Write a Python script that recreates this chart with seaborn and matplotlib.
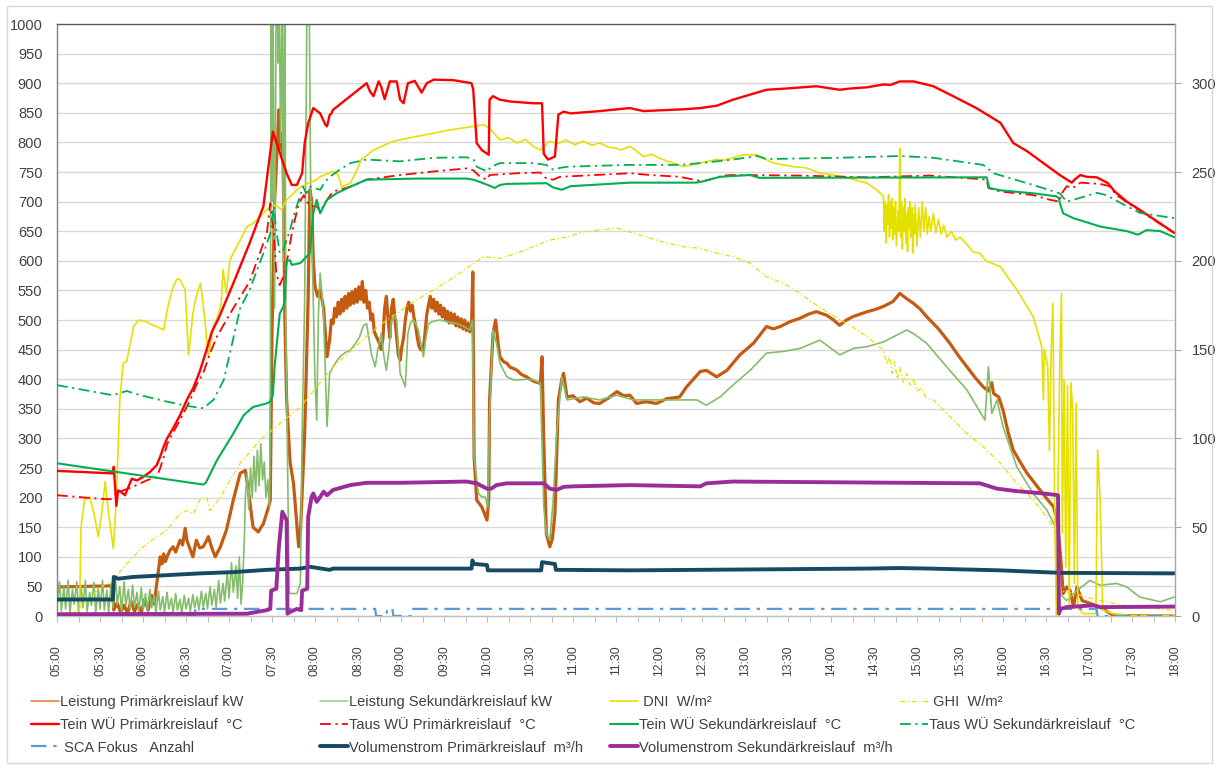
import pandas as pd
import matplotlib
matplotlib.use("Agg")
import matplotlib.pyplot as plt
from matplotlib.lines import Line2D
from matplotlib.patches import Rectangle
from matplotlib.ticker import FixedLocator, FuncFormatter
import seaborn as sns

sns.set_theme(style="white")
plt.rcParams["font.family"] = ["Liberation Sans", "DejaVu Sans"]

# ---------------------------------------------------------------------------
# Measurement series: (time of day in hours, value)
# ---------------------------------------------------------------------------

# thermal power, kW (left axis)
leistung_prim = [
    (5.00, 49), (5.65, 51), (5.66, 10), (5.70, 22), (5.74, 6), (5.78, 18), (5.82, 5), (5.86, 25),
    (5.90, 8), (5.94, 20), (5.98, 6), (6.02, 28), (6.06, 10), (6.10, 35), (6.13, 20), (6.16, 55),
    (6.20, 100), (6.22, 88), (6.24, 105), (6.26, 92), (6.28, 100), (6.31, 110), (6.35, 117),
    (6.38, 108), (6.43, 128), (6.46, 120), (6.49, 148), (6.51, 128), (6.55, 112), (6.58, 100),
    (6.62, 128), (6.66, 115), (6.70, 117), (6.73, 125), (6.76, 134), (6.80, 115), (6.84, 100),
    (6.90, 117), (6.97, 145), (7.05, 196), (7.13, 241), (7.19, 246), (7.22, 218), (7.28, 150),
    (7.34, 142), (7.40, 156), (7.46, 184), (7.48, 196), (7.50, 477), (7.53, 700), (7.56, 790),
    (7.58, 855), (7.59, 790), (7.61, 816), (7.63, 760), (7.65, 500), (7.67, 365), (7.71, 260),
    (7.75, 224), (7.81, 117), (7.83, 139), (7.88, 308), (7.92, 534), (7.94, 720), (7.96, 703),
    (7.98, 600), (8.00, 557), (8.03, 540), (8.06, 551), (8.10, 520), (8.14, 438),
    (8.17, 466), (8.19, 500), (8.21, 494), (8.23, 520), (8.25, 505), (8.27, 530), (8.29, 510),
    (8.31, 535), (8.33, 515), (8.35, 540), (8.37, 520), (8.39, 545), (8.41, 525), (8.43, 548),
    (8.45, 528), (8.47, 552), (8.49, 530), (8.51, 556), (8.53, 535), (8.55, 565), (8.57, 530),
    (8.59, 550), (8.61, 520), (8.63, 530), (8.65, 500), (8.67, 510), (8.69, 480), (8.72, 470),
    (8.75, 460), (8.77, 450), (8.79, 470), (8.81, 520), (8.83, 540), (8.85, 500), (8.87, 470),
    (8.89, 520), (8.91, 535), (8.93, 500), (8.95, 470), (8.97, 440), (8.99, 432), (9.01, 455),
    (9.03, 470), (9.05, 500), (9.07, 520), (9.09, 530), (9.11, 515), (9.13, 525), (9.15, 505),
    (9.17, 490), (9.19, 470), (9.21, 455), (9.23, 450), (9.26, 449), (9.28, 480), (9.30, 510),
    (9.32, 525), (9.34, 540), (9.36, 520), (9.38, 535), (9.40, 515), (9.42, 530), (9.44, 510),
    (9.46, 525), (9.48, 505), (9.50, 520), (9.52, 500), (9.54, 515), (9.56, 495), (9.58, 512),
    (9.60, 495), (9.62, 510), (9.64, 490), (9.66, 505), (9.68, 488), (9.70, 502), (9.72, 485),
    (9.74, 500), (9.76, 482), (9.78, 495), (9.80, 480), (9.82, 490), (9.835, 581), (9.85, 269),
    (9.88, 196), (9.94, 184), (10.00, 162), (10.02, 196), (10.03, 365), (10.07, 477),
    (10.10, 500), (10.13, 460), (10.15, 438), (10.19, 430), (10.23, 427), (10.27, 420),
    (10.31, 418), (10.35, 415), (10.40, 408), (10.46, 404), (10.50, 400), (10.55, 396),
    (10.62, 393), (10.64, 438), (10.66, 297), (10.69, 139), (10.73, 117), (10.76, 130),
    (10.79, 173), (10.83, 365), (10.87, 400), (10.89, 410), (10.93, 370), (11.00, 372),
    (11.08, 362), (11.16, 368), (11.24, 360), (11.31, 359), (11.41, 368), (11.51, 379),
    (11.59, 372), (11.66, 373), (11.74, 359), (11.85, 362), (11.97, 359), (12.09, 367),
    (12.24, 370), (12.32, 387), (12.40, 400), (12.48, 413), (12.55, 415), (12.67, 404),
    (12.79, 415), (12.94, 441), (13.10, 461), (13.25, 489), (13.33, 485), (13.41, 489),
    (13.52, 497), (13.64, 503), (13.74, 510), (13.83, 514), (13.95, 508), (14.03, 500),
    (14.10, 491), (14.18, 500), (14.26, 506), (14.34, 510), (14.42, 514), (14.52, 518),
    (14.61, 523), (14.72, 531), (14.80, 545), (14.88, 536), (14.96, 528), (15.04, 518),
    (15.11, 506), (15.25, 485), (15.38, 461), (15.48, 440), (15.58, 421), (15.68, 402),
    (15.77, 387), (15.83, 380), (15.87, 394), (15.89, 376), (15.95, 370), (16.00, 348),
    (16.06, 310), (16.12, 280), (16.20, 260), (16.28, 241), (16.35, 228), (16.43, 213),
    (16.51, 198), (16.59, 184), (16.64, 150), (16.67, 100), (16.70, 38), (16.74, 49),
    (16.78, 43), (16.82, 15), (16.86, 49), (16.92, 26), (17.00, 22), (17.13, 15), (17.28, 1),
    (17.99, 0),
]

leistung_sek = [
    (5.00, 15), (5.03, 58), (5.05, 8), (5.08, 50), (5.10, 12), (5.13, 60), (5.15, 5), (5.18, 45),
    (5.20, 20), (5.23, 58), (5.25, 6), (5.28, 52), (5.30, 14), (5.33, 60), (5.35, 8), (5.38, 40),
    (5.40, 18), (5.43, 57), (5.45, 5), (5.48, 48), (5.50, 12), (5.53, 60), (5.55, 10), (5.58, 44),
    (5.60, 6), (5.63, 55), (5.65, 15), (5.68, 62), (5.70, 20), (5.73, 50), (5.75, 8), (5.78, 58),
    (5.80, 18), (5.83, 45), (5.85, 10), (5.88, 52), (5.90, 15), (5.93, 40), (5.95, 6), (5.98, 48),
    (6.00, 12), (6.03, 38), (6.05, 8), (6.08, 45), (6.10, 14), (6.13, 35), (6.15, 5), (6.18, 42),
    (6.20, 10), (6.23, 33), (6.25, 7), (6.28, 40), (6.30, 12), (6.33, 30), (6.35, 6), (6.38, 38),
    (6.40, 10), (6.43, 28), (6.45, 5), (6.48, 35), (6.50, 12), (6.53, 30), (6.55, 8), (6.58, 36),
    (6.60, 14), (6.63, 32), (6.65, 10), (6.68, 42), (6.70, 15), (6.73, 38), (6.75, 12), (6.78, 50),
    (6.80, 18), (6.83, 45), (6.85, 15), (6.88, 60), (6.90, 22), (6.93, 55), (6.95, 25), (6.98, 75),
    (7.00, 30), (7.03, 90), (7.05, 40), (7.08, 85), (7.10, 30), (7.12, 100), (7.14, 20),
    (7.16, 60), (7.18, 139), (7.19, 200), (7.21, 241), (7.23, 180), (7.25, 250), (7.27, 200),
    (7.29, 270), (7.31, 210), (7.33, 280), (7.35, 220), (7.37, 291), (7.39, 230), (7.41, 260),
    (7.43, 200), (7.45, 230), (7.47, 184), (7.48, 308), (7.49, 1100), (7.50, 700), (7.51, 1100),
    (7.53, 520), (7.55, 1100), (7.56, 1100), (7.57, 934), (7.58, 1100), (7.60, 800),
    (7.62, 1100), (7.63, 600), (7.65, 1100), (7.66, 500), (7.68, 275), (7.70, 38), (7.79, 38),
    (7.83, 55), (7.85, 308), (7.88, 534), (7.91, 1100), (7.93, 1100), (7.95, 703), (7.98, 534),
    (8.00, 400), (8.02, 331), (8.04, 511), (8.06, 579), (8.08, 545), (8.10, 506), (8.14, 320),
    (8.17, 410), (8.21, 421), (8.25, 430), (8.29, 438), (8.35, 445), (8.41, 449), (8.47, 460),
    (8.52, 472), (8.56, 490), (8.60, 494), (8.63, 466), (8.66, 440), (8.70, 421), (8.73, 450),
    (8.77, 477), (8.80, 440), (8.83, 415), (8.86, 450), (8.89, 500), (8.93, 505), (8.95, 500),
    (8.99, 410), (9.03, 395), (9.05, 387), (9.08, 477), (9.11, 495), (9.14, 500), (9.17, 495),
    (9.20, 483), (9.24, 455), (9.26, 438), (9.29, 470), (9.32, 494), (9.38, 498), (9.45, 500),
    (9.55, 497), (9.65, 494), (9.72, 490), (9.80, 483), (9.83, 500), (9.85, 269), (9.90, 207),
    (9.94, 201), (9.98, 201), (10.01, 184), (10.03, 337), (10.07, 483), (10.11, 461),
    (10.15, 427), (10.23, 404), (10.31, 399), (10.38, 399), (10.46, 400), (10.54, 399),
    (10.62, 393), (10.66, 184), (10.69, 139), (10.73, 128), (10.77, 196), (10.81, 308),
    (10.87, 404), (10.93, 365), (11.12, 370), (11.31, 365), (11.51, 373), (11.70, 365),
    (12.09, 365), (12.28, 365), (12.44, 365), (12.55, 356), (12.71, 370), (12.86, 390),
    (13.06, 415), (13.25, 444), (13.45, 447), (13.64, 452), (13.87, 466), (14.03, 449),
    (14.10, 441), (14.26, 452), (14.42, 455), (14.61, 463), (14.80, 477), (14.88, 483),
    (14.96, 477), (15.11, 461), (15.38, 415), (15.58, 382), (15.79, 331), (15.83, 421),
    (15.87, 342), (15.93, 365), (16.00, 320), (16.16, 252), (16.35, 207), (16.51, 179),
    (16.63, 145), (16.66, 38), (16.74, 26), (16.86, 43), (17.01, 60), (17.13, 52), (17.32, 55),
    (17.44, 49), (17.59, 32), (17.83, 24), (17.99, 32),
]

# irradiance, W/m² (left axis)
dni = [
    (5.00, 0), (5.26, 0), (5.28, 150), (5.32, 196), (5.38, 201), (5.43, 173), (5.48, 134),
    (5.52, 173), (5.56, 227), (5.60, 173), (5.655, 114), (5.69, 196), (5.73, 365), (5.77, 427),
    (5.81, 430), (5.89, 489), (5.95, 500), (6.04, 497), (6.10, 492), (6.16, 489), (6.24, 483),
    (6.29, 523), (6.35, 556), (6.40, 570), (6.43, 568), (6.49, 551), (6.53, 441), (6.58, 511),
    (6.62, 540), (6.67, 562), (6.72, 500), (6.76, 438), (6.82, 489), (6.88, 511), (6.91, 528),
    (6.93, 585), (6.97, 545), (7.01, 601), (7.05, 613), (7.13, 635), (7.21, 658), (7.28, 663),
    (7.40, 680), (7.48, 692), (7.55, 694), (7.61, 686), (7.67, 703), (7.83, 725), (8.02, 737),
    (8.06, 742), (8.21, 751), (8.27, 745), (8.31, 725), (8.41, 731), (8.47, 748), (8.54, 771),
    (8.68, 787), (8.91, 802), (9.18, 810), (9.57, 821), (9.84, 827), (9.96, 830), (10.03, 824),
    (10.15, 804), (10.25, 808), (10.35, 799), (10.45, 805), (10.54, 793), (10.62, 787),
    (10.73, 802), (10.82, 798), (10.92, 804), (11.02, 796), (11.12, 802), (11.22, 795),
    (11.31, 799), (11.41, 792), (11.51, 790), (11.55, 787), (11.66, 793), (11.70, 790),
    (11.82, 776), (11.92, 780), (12.01, 773), (12.10, 768), (12.17, 765), (12.28, 759),
    (12.38, 762), (12.48, 765), (12.57, 768), (12.67, 771), (12.76, 770), (12.86, 774),
    (12.98, 779), (13.14, 779), (13.33, 765), (13.45, 762), (13.56, 759), (13.71, 757),
    (13.87, 748), (14.03, 745), (14.22, 739), (14.42, 731), (14.53, 720), (14.61, 709),
    (14.62, 650), (14.63, 700), (14.64, 630), (14.65, 695), (14.66, 660), (14.67, 712),
    (14.68, 640), (14.69, 700), (14.70, 655), (14.71, 705), (14.72, 635), (14.73, 690),
    (14.74, 645), (14.75, 700), (14.76, 625), (14.78, 685), (14.79, 650), (14.80, 790),
    (14.81, 640), (14.82, 700), (14.83, 620), (14.84, 690), (14.85, 650), (14.86, 705),
    (14.87, 630), (14.88, 680), (14.89, 616), (14.90, 690), (14.91, 655), (14.92, 700),
    (14.93, 640), (14.94, 690), (14.95, 613), (14.96, 680), (14.97, 645), (14.98, 695),
    (15.00, 625), (15.02, 690), (15.04, 640), (15.06, 700), (15.08, 650), (15.10, 690),
    (15.12, 645), (15.14, 675), (15.16, 650), (15.19, 680), (15.22, 647), (15.25, 670),
    (15.28, 645), (15.31, 660), (15.35, 640), (15.40, 650), (15.45, 635), (15.50, 640),
    (15.58, 628), (15.65, 615), (15.73, 613), (15.80, 600), (15.97, 590), (16.16, 551),
    (16.35, 506), (16.43, 466), (16.45, 455), (16.47, 365), (16.48, 450), (16.52, 421),
    (16.54, 280), (16.56, 444), (16.58, 528), (16.60, 196), (16.62, 0), (16.66, 421),
    (16.68, 545), (16.69, 140), (16.71, 400), (16.73, 83), (16.75, 389), (16.77, 15),
    (16.79, 394), (16.81, 348), (16.83, 55), (16.85, 359), (16.87, 15), (16.93, 4), (17.08, 4),
    (17.10, 280), (17.13, 196), (17.16, 10), (17.28, 4), (17.47, 1), (17.99, 1),
]

ghi = [
    (5.00, 0), (5.15, 0), (5.35, 26), (5.50, 49), (5.65, 60), (5.81, 88), (6.00, 117),
    (6.16, 134), (6.28, 145), (6.43, 173), (6.51, 178), (6.59, 173), (6.66, 196), (6.74, 201),
    (6.78, 178), (6.90, 201), (7.01, 229), (7.13, 258), (7.36, 297), (7.59, 325), (7.83, 353),
    (8.02, 387), (8.21, 421), (8.60, 472), (8.79, 495), (9.14, 530), (9.57, 568), (9.96, 607),
    (10.15, 604), (10.35, 613), (10.54, 624), (10.73, 635), (10.92, 640), (11.12, 649),
    (11.31, 652), (11.51, 655), (11.70, 647), (11.90, 638), (12.09, 630), (12.28, 624),
    (12.48, 621), (12.67, 613), (12.86, 607), (13.06, 596), (13.25, 573), (13.45, 562),
    (13.64, 545), (13.83, 525), (14.03, 507), (14.22, 491), (14.42, 472), (14.61, 449),
    (14.65, 425), (14.68, 440), (14.71, 410), (14.74, 430), (14.77, 400), (14.80, 420),
    (14.84, 395), (14.88, 410), (14.92, 390), (14.96, 400), (15.00, 380), (15.05, 385),
    (15.10, 370), (15.19, 365), (15.38, 337), (15.58, 308), (15.77, 286), (15.97, 258),
    (16.16, 224), (16.35, 196), (16.51, 167), (16.59, 150), (16.63, 83), (16.66, 43),
    (16.82, 38), (17.13, 26), (17.51, 15), (17.99, 10),
]

# heat exchanger temperatures, °C (right axis)
tein_prim = [
    (5.00, 81.7), (5.65, 80.3), (5.66, 84.0), (5.69, 62.0), (5.71, 70.7), (5.75, 69.7),
    (5.79, 68.0), (5.83, 72.7), (5.87, 77.3), (5.93, 76.3), (6.00, 78.3), (6.08, 81.0),
    (6.16, 85.0), (6.20, 89.7), (6.24, 95.3), (6.28, 100.0), (6.35, 105.7), (6.43, 113.0),
    (6.51, 121.7), (6.59, 129.0), (6.66, 137.7), (6.74, 150.0), (6.80, 160.0), (6.88, 167.7),
    (7.05, 187.3), (7.24, 210.0), (7.40, 230.7), (7.51, 272.7), (7.67, 249.3), (7.73, 242.7),
    (7.79, 242.7), (7.85, 249.3), (7.88, 266.3), (7.92, 277.3), (7.98, 286.0), (8.06, 283.0),
    (8.12, 276.7), (8.14, 275.7), (8.17, 282.0), (8.19, 283.0), (8.21, 285.0), (8.41, 292.7),
    (8.60, 300.0), (8.64, 295.3), (8.68, 292.7), (8.74, 301.0), (8.77, 298.0), (8.81, 291.0),
    (8.87, 301.0), (8.95, 301.0), (8.99, 290.7), (9.03, 288.7), (9.08, 300.0), (9.16, 301.3),
    (9.20, 298.0), (9.24, 294.7), (9.30, 300.0), (9.38, 302.0), (9.61, 301.7), (9.82, 300.0),
    (9.84, 296.3), (9.88, 266.3), (9.94, 262.3), (10.02, 259.7), (10.03, 290.7), (10.07, 292.7),
    (10.15, 290.7), (10.27, 289.7), (10.54, 288.7), (10.64, 288.7), (10.66, 260.3),
    (10.71, 257.0), (10.79, 258.7), (10.83, 282.3), (10.89, 284.0), (10.97, 283.0),
    (11.31, 284.3), (11.66, 286.0), (11.82, 284.3), (12.28, 285.3), (12.48, 286.0),
    (12.67, 287.3), (12.86, 290.7), (13.25, 296.3), (13.48, 297.0), (13.83, 298.3),
    (14.10, 296.3), (14.22, 297.0), (14.42, 297.7), (14.61, 299.3), (14.69, 299.0),
    (14.80, 301.0), (14.96, 301.0), (15.19, 298.3), (15.42, 292.7), (15.69, 286.0),
    (15.97, 277.7), (16.12, 266.3), (16.28, 261.7), (16.47, 255.0), (16.66, 248.3),
    (16.80, 244.0), (16.84, 246.0), (16.90, 248.3), (16.97, 247.3), (17.09, 247.0),
    (17.22, 243.7), (17.30, 239.0), (17.44, 233.3), (17.59, 228.7), (17.83, 221.0),
    (17.99, 215.7),
]

taus_prim = [
    (5.00, 68.0), (5.50, 66.0), (5.62, 65.7), (5.65, 67.0), (5.73, 70.0), (5.88, 72.7),
    (6.04, 76.3), (6.16, 78.3), (6.20, 83.3), (6.24, 89.3), (6.28, 96.7), (6.35, 103.3),
    (6.43, 110.3), (6.55, 121.7), (6.62, 130.0), (6.70, 136.7), (6.78, 148.0), (6.86, 157.3),
    (6.97, 166.7), (7.05, 173.3), (7.24, 188.3), (7.44, 215.3), (7.48, 232.3), (7.52, 215.3),
    (7.55, 193.0), (7.59, 186.3), (7.65, 193.0), (7.67, 198.7), (7.73, 215.3), (7.81, 232.3),
    (7.87, 237.0), (7.90, 233.3), (7.96, 230.7), (8.02, 230.7), (8.06, 227.7), (8.14, 234.3),
    (8.21, 239.0), (8.41, 241.7), (8.60, 245.7), (8.99, 248.3), (9.38, 250.3), (9.76, 252.0),
    (9.84, 251.0), (9.92, 247.3), (10.00, 245.7), (10.03, 248.3), (10.35, 249.3),
    (10.62, 249.7), (10.69, 246.3), (10.77, 245.7), (10.85, 247.3), (11.66, 249.3),
    (11.90, 248.3), (12.24, 247.3), (12.40, 245.7), (12.51, 244.7), (12.63, 246.3),
    (12.75, 248.0), (12.86, 248.3), (13.64, 248.0), (14.42, 247.0), (15.15, 248.0),
    (15.73, 246.0), (15.81, 245.7), (15.83, 241.0), (15.97, 239.0), (16.16, 238.0),
    (16.35, 237.0), (16.55, 234.3), (16.66, 233.3), (16.67, 237.0), (16.74, 242.0),
    (16.81, 241.0), (16.90, 244.0), (17.13, 243.3), (17.24, 242.0), (17.32, 237.0),
    (17.51, 230.7), (17.99, 215.7),
]

tein_sek = [
    (5.00, 86.0), (6.70, 74.0), (6.73, 75.0), (6.86, 87.7), (7.05, 102.7), (7.17, 113.0),
    (7.28, 117.7), (7.44, 119.7), (7.48, 120.7), (7.51, 124.3), (7.53, 140.3), (7.59, 170.3),
    (7.63, 174.0), (7.65, 178.0), (7.67, 200.0), (7.71, 200.3), (7.73, 197.7), (7.83, 198.7),
    (7.90, 202.3), (7.94, 204.3), (7.98, 226.7), (8.02, 234.3), (8.06, 226.7), (8.10, 230.7),
    (8.14, 234.3), (8.25, 238.0), (8.41, 241.7), (8.60, 245.7), (9.18, 246.3), (9.76, 246.3),
    (9.84, 245.7), (9.94, 244.0), (10.03, 242.3), (10.09, 241.0), (10.15, 242.7),
    (10.23, 243.3), (10.69, 243.7), (10.77, 241.3), (10.87, 240.0), (10.97, 242.0),
    (11.66, 244.0), (12.43, 244.0), (12.51, 244.7), (12.71, 247.3), (13.06, 248.3),
    (13.17, 246.7), (15.81, 247.0), (15.84, 241.0), (15.97, 239.7), (16.35, 238.0),
    (16.62, 236.3), (16.65, 235.3), (16.66, 232.7), (16.70, 226.7), (16.82, 224.0),
    (17.13, 219.3), (17.44, 216.7), (17.57, 214.7), (17.67, 217.3), (17.83, 216.7),
    (17.99, 213.3),
]

taus_sek = [
    (5.00, 130.0), (5.65, 124.3), (5.81, 126.7), (5.97, 124.3), (6.28, 120.7), (6.51, 118.3),
    (6.70, 117.0), (6.82, 121.7), (6.94, 133.0), (7.01, 148.0), (7.09, 164.7), (7.13, 173.3),
    (7.24, 183.7), (7.40, 204.3), (7.48, 215.3), (7.52, 230.7), (7.55, 217.3), (7.59, 204.3),
    (7.63, 206.0), (7.71, 217.3), (7.75, 225.0), (7.86, 241.7), (7.90, 238.0), (7.94, 241.7),
    (8.06, 240.0), (8.12, 244.7), (8.17, 247.3), (8.29, 251.3), (8.41, 255.0), (8.60, 257.0),
    (8.99, 256.0), (9.38, 258.0), (9.76, 258.3), (9.84, 257.3), (9.88, 253.0), (10.00, 250.3),
    (10.05, 253.0), (10.15, 255.0), (10.54, 255.0), (10.69, 254.0), (10.77, 251.3),
    (10.85, 252.3), (10.94, 253.0), (11.66, 254.0), (12.24, 254.0), (12.48, 255.0),
    (12.86, 257.0), (13.14, 259.0), (13.25, 257.3), (14.10, 258.0), (14.80, 259.0),
    (15.19, 258.0), (15.77, 254.0), (15.89, 249.3), (16.35, 242.7), (16.66, 238.0),
    (16.74, 233.3), (16.82, 234.3), (17.09, 238.3), (17.20, 237.0), (17.44, 230.7),
    (17.59, 227.0), (17.99, 224.0),
]

# number of focused collectors (right axis)
sca_fokus = [
    (5.00, 0), (6.60, 0), (6.61, 4), (8.70, 4), (8.71, 0), (8.83, 0), (8.84, 4), (8.90, 4),
    (8.91, 0), (9.12, 0), (9.13, 4), (17.09, 4), (17.10, 0), (17.99, 0),
]

# volume flows, m³/h (right axis)
vol_prim = [
    (5.00, 9.3), (5.65, 9.3), (5.66, 22.0), (5.71, 21.0), (5.89, 22.0), (6.28, 23.0),
    (6.66, 24.0), (7.05, 24.7), (7.44, 26.0), (7.83, 26.7), (7.94, 27.7), (8.17, 26.0),
    (8.21, 26.7), (9.82, 26.7), (9.83, 31.3), (9.85, 29.3), (10.00, 28.7), (10.01, 25.7),
    (10.63, 25.7), (10.64, 30.3), (10.79, 29.3), (10.80, 26.0), (11.66, 25.7), (12.48, 26.0),
    (14.42, 26.7), (14.80, 27.0), (15.15, 26.7), (15.97, 25.7), (16.66, 24.3), (17.99, 24.0),
]

vol_sek = [
    (5.00, 1.0), (7.21, 1.3), (7.44, 3.3), (7.48, 4.0), (7.49, 14.3), (7.55, 15.3),
    (7.58, 39.0), (7.62, 58.7), (7.67, 54.0), (7.68, 1.3), (7.71, 2.3), (7.79, 4.0),
    (7.84, 3.3), (7.85, 14.3), (7.91, 15.3), (7.92, 55.7), (7.96, 67.0), (7.98, 69.0),
    (8.02, 64.3), (8.06, 67.0), (8.10, 70.0), (8.14, 68.0), (8.21, 71.0), (8.41, 73.7),
    (8.60, 75.0), (8.99, 75.0), (9.76, 75.7), (9.88, 74.7), (10.00, 71.7), (10.05, 71.7),
    (10.11, 73.7), (10.23, 74.7), (10.66, 74.7), (10.73, 71.7), (10.81, 71.0), (10.89, 72.7),
    (11.00, 73.0), (11.66, 73.7), (12.48, 73.0), (12.55, 74.7), (12.86, 75.7), (15.73, 74.7),
    (15.93, 71.7), (16.16, 70.3), (16.47, 69.0), (16.64, 68.0), (16.65, 1.3), (16.67, 4.0),
    (16.74, 5.0), (17.05, 6.0), (17.13, 5.0), (17.99, 5.3),
]

labels = [
    "Leistung Primärkreislauf kW", "Leistung Sekundärkreislauf kW", " DNI  W/m²", " GHI  W/m²",
    "Tein WÜ Primärkreislauf  °C", "Taus WÜ Primärkreislauf  °C",
    "Tein WÜ Sekundärkreislauf  °C", "Taus WÜ Sekundärkreislauf  °C",
    " SCA Fokus   Anzahl", "Volumenstrom Primärkreislauf  m³/h",
    "Volumenstrom Sekundärkreislauf  m³/h",
]

# ---------------------------------------------------------------------------
W, H = 1217, 769
TXT = "#404040"
fig = plt.figure(figsize=(W / 100, H / 100), dpi=100)
ax = fig.add_axes([57 / W, 1 - 616 / H, (1175 - 57) / W, (616 - 24) / H])
ax2 = ax.twinx()


def draw(axis, pairs, color, lw, style="-", z=2):
    df = pd.DataFrame(pairs, columns=["zeit", "wert"])
    sns.lineplot(data=df, x="zeit", y="wert", ax=axis, color=color, linewidth=lw,
                 linestyle=style, estimator=None, sort=False, zorder=z)
    line = axis.lines[-1]
    line.set_solid_joinstyle("round")
    return line


dash_dot = (0, (6, 2.5, 1.2, 2.5))
draw(ax, leistung_prim, "#C55A11", 2.3)
draw(ax, leistung_sek, "#84BD6A", 1.2)
h_dni = draw(ax, dni, "#E6E000", 1.2)
h_ghi = draw(ax, ghi, "#E6E000", 0.9, (0, (4, 2, 1, 2)))

h_tp = draw(ax2, tein_prim, "#FF0000", 1.7)
h_tap = draw(ax2, taus_prim, "#FF0000", 1.3, dash_dot)
h_ts = draw(ax2, tein_sek, "#00B050", 1.5)
h_tas = draw(ax2, taus_sek, "#00B050", 1.3, dash_dot)
h_sca = draw(ax2, sca_fokus, "#5B9BD5", 1.6, (0, (7, 3, 1.5, 3)))
h_vp = draw(ax2, vol_prim, "#174A61", 2.8)
h_vs = draw(ax2, vol_sek, "#9B2D9B", 2.8)

# thin legend keys for the two power series
h_lp = Line2D([], [], color="#E8803F", linewidth=1.2)
h_ls = Line2D([], [], color="#A3D08C", linewidth=1.2)

# axes, ticks, grid
ax.set_xlim(5, 18)
ax.set_ylim(0, 1000)
ax2.set_ylim(0, 1000 / 3)
for a in (ax, ax2):
    a.set_xlabel("")
    a.set_ylabel("")

ax.set_yticks(range(0, 1001, 50))
ax.yaxis.grid(True, color="#D9D9D9", linewidth=1.0)
ax.xaxis.grid(False)
ax.set_axisbelow(True)
ax2.set_yticks(range(0, 301, 50))
ax2.grid(False)

half_hours = [5 + 0.5 * i for i in range(27)]
quarters = [5.25 + 0.5 * i for i in range(26)]
ax.xaxis.set_major_locator(FixedLocator(half_hours))
ax.xaxis.set_minor_locator(FixedLocator(quarters))
ax.xaxis.set_major_formatter(FuncFormatter(
    lambda v, p: f"{int(v):02d}:{int(round((v - int(v)) * 60)):02d}"))

ax.tick_params(axis="y", which="both", left=False, length=0, labelsize=10.5,
               labelcolor=TXT, pad=10.5)
ax.tick_params(axis="x", which="both", bottom=True, direction="out", length=4, width=0.8,
               color="#BFBFBF", labelsize=8.8, labelcolor=TXT, labelrotation=90, pad=17)
ax2.tick_params(axis="y", right=True, direction="out", length=4, width=0.8, color="#A6A6A6",
                labelsize=10.5, labelcolor=TXT, pad=8)

ax.spines["top"].set_color("#595959")
ax.spines["left"].set_color("#808080")
ax.spines["bottom"].set_color("#BFBFBF")
ax.spines["right"].set_visible(False)
for s in ("top", "left", "bottom"):
    ax2.spines[s].set_visible(False)
ax2.spines["right"].set_color("#A6A6A6")
for s in ax.spines.values():
    s.set_linewidth(1.0)
ax2.spines["right"].set_linewidth(1.0)

# legend, laid out as four columns of three rows
columns = [
    ([h_lp, h_tp, h_sca], [labels[0], labels[4], labels[8]], 31),
    ([h_ls, h_tap, h_vp], [labels[1], labels[5], labels[9]], 320),
    ([h_dni, h_ts, h_vs], [labels[2], labels[6], labels[10]], 610),
    ([h_ghi, h_tas], [labels[3], labels[7]], 900),
]
for handles, texts, x0 in columns:
    fig.legend(handles, texts, loc="upper left", bbox_to_anchor=(x0 / W, 1 - 695 / H),
               frameon=False, fontsize=10.5, labelcolor=TXT, handlelength=1.9,
               handletextpad=0.1, labelspacing=0.6, borderpad=0, borderaxespad=0)

# chart area border
fig.patches.append(Rectangle((7 / W, 1 - 763 / H), (1212 - 7) / W, (763 - 6) / H,
                             transform=fig.transFigure, fill=False, edgecolor="#D9D9D9",
                             linewidth=1.0))

fig.savefig("out.png", dpi=100)
